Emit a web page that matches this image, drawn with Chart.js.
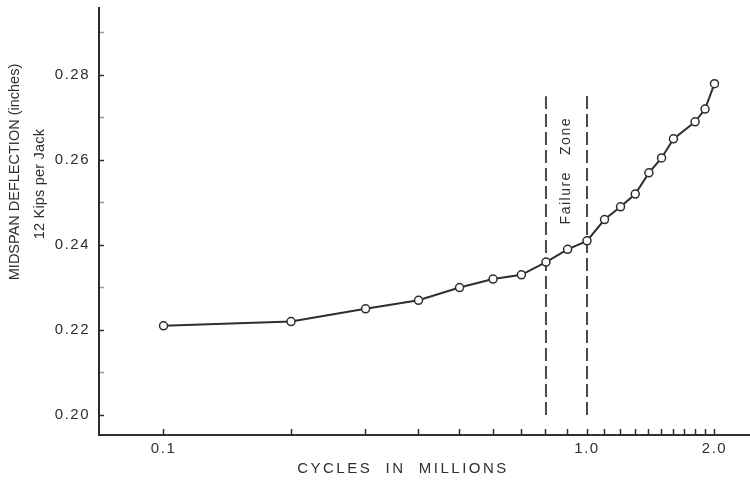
<!DOCTYPE html>
<html>
<head>
<meta charset="utf-8">
<title>Midspan deflection vs. cycles</title>
<script src="https://cdn.jsdelivr.net/npm/chart.js@4/dist/chart.umd.min.js"></script>
<style>
  html, body { margin: 0; padding: 0; background: #ffffff; }
  #wrap { width: 750px; height: 484px; }
</style>
</head>
<body>
<div id="wrap"><canvas id="c" width="750" height="484"></canvas></div>
<script>
// Measured deflection under 12 kips per jack
const cycles     = [0.1, 0.2, 0.3, 0.4, 0.5, 0.6, 0.7, 0.8, 0.9, 1.0, 1.1, 1.2, 1.3, 1.4, 1.5, 1.6, 1.8, 1.9, 2.0];
const deflection = [0.221, 0.222, 0.225, 0.227, 0.230, 0.232, 0.233, 0.236, 0.239, 0.241, 0.246, 0.249, 0.252, 0.257, 0.2605, 0.265, 0.269, 0.272, 0.278];

// Failure zone boundaries (cycles in millions) and the extent of their dashed markers
const failureBounds = [0.8, 1.0];
const failureTop    = [0.2750, 0.2762];
const failureBottom = 0.200;
const failureLabelY = 0.2575;

// Axis ticks
const xTickValues  = [0.1, 0.2, 0.3, 0.4, 0.5, 0.6, 0.7, 0.8, 0.9, 1.0, 1.1, 1.2, 1.3, 1.4, 1.5, 1.6, 1.7, 1.8, 1.9, 2.0];
const xTickLabels  = { 0.1: '0.1', 1.0: '1.0', 2.0: '2.0' };
const yTickValues  = [0.20, 0.21, 0.22, 0.23, 0.24, 0.25, 0.26, 0.27, 0.28, 0.29];
const yMajorLabels = ['0.20', '0.22', '0.24', '0.26', '0.28'];

const INK = '#2e2e2e';
const FONT = '"Liberation Sans", Arial, sans-serif';

const mainData = cycles.map((c, i) => ({ x: c, y: deflection[i] }));
const zoneSets = failureBounds.map((b, i) => ({
  data: [{ x: b, y: failureBottom }, { x: b, y: failureTop[i] }],
  borderColor: '#4a4a4a',
  borderWidth: 2,
  borderDash: [13, 5],
  pointRadius: 0,
  fill: false
}));

// no extra room around the plot for overhanging tick labels
function noLabelPadding(scale) {
  scale.paddingLeft = 0;
  scale.paddingRight = 0;
  scale.paddingTop = 0;
  scale.paddingBottom = 0;
}

const lettering = {
  id: 'lettering',
  beforeDraw(chart) {
    chart.ctx.letterSpacing = '1.5px';
  },
  afterDraw(chart) {
    const ctx = chart.ctx;
    const xs = chart.scales.x, ys = chart.scales.y;
    ctx.save();
    ctx.fillStyle = INK;
    ctx.textAlign = 'center';
    ctx.textBaseline = 'middle';

    // x-axis title
    ctx.font = '15px ' + FONT;
    ctx.letterSpacing = '2.5px';
    ctx.fillText('CYCLES  IN  MILLIONS', 403, 469);

    // y-axis title, two rotated lines
    ctx.font = '14.5px ' + FONT;
    ctx.letterSpacing = '0px';
    ctx.save();
    ctx.translate(15, 172);
    ctx.rotate(-Math.PI / 2);
    ctx.fillText('MIDSPAN DEFLECTION (inches)', 0, 0);
    ctx.restore();
    ctx.save();
    ctx.translate(40, 184);
    ctx.rotate(-Math.PI / 2);
    ctx.letterSpacing = '0.2px';
    ctx.fillText('12 Kips per Jack', 0, 0);
    ctx.restore();

    // label between the failure zone boundaries
    const mid = Math.sqrt(failureBounds[0] * failureBounds[1]);
    ctx.save();
    ctx.translate(xs.getPixelForValue(mid), ys.getPixelForValue(failureLabelY));
    ctx.rotate(-Math.PI / 2);
    ctx.font = '14px ' + FONT;
    ctx.letterSpacing = '1.5px';
    ctx.fillText('Failure   Zone', 0, 0);
    ctx.restore();

    ctx.restore();
  }
};

new Chart(document.getElementById('c'), {
  type: 'line',
  data: {
    datasets: [
      {
        data: mainData,
        borderColor: INK,
        borderWidth: 2,
        tension: 0,
        pointRadius: 4,
        pointBorderWidth: 1.5,
        pointBackgroundColor: '#ffffff',
        pointBorderColor: INK,
        fill: false
      },
      ...zoneSets
    ]
  },
  options: {
    responsive: false,
    devicePixelRatio: 1,
    animation: false,
    events: [],
    layout: { autoPadding: false, padding: { top: 8, left: 0, right: 0, bottom: 0 } },
    plugins: { legend: { display: false }, tooltip: { enabled: false } },
    scales: {
      x: {
        type: 'logarithmic',
        min: 0.0704,
        max: 2.426,
        afterBuildTicks(scale) {
          scale.ticks = xTickValues.map(v => ({ value: v }));
        },
        afterFit(scale) { scale.height = 49; noLabelPadding(scale); },
        border: { display: true, color: INK, width: 2 },
        grid: {
          drawOnChartArea: false,
          drawTicks: true,
          tickLength: -6,
          tickWidth: 1.5,
          tickColor: INK
        },
        ticks: {
          autoSkip: false,
          maxRotation: 0,
          padding: 11,
          color: INK,
          font: { family: FONT, size: 15 },
          callback(value) {
            const key = Math.round(value * 10) / 10;
            return xTickLabels[key] !== undefined ? xTickLabels[key] : '';
          }
        }
      },
      y: {
        type: 'linear',
        min: 0.1953,
        max: 0.2958,
        afterBuildTicks(scale) {
          scale.ticks = yTickValues.map(v => ({ value: v }));
        },
        afterFit(scale) { scale.width = 99; noLabelPadding(scale); },
        border: { display: true, color: INK, width: 2 },
        grid: {
          drawOnChartArea: false,
          drawTicks: true,
          tickLength: -5,
          tickWidth: 1.5,
          tickColor(ctx) {
            const s = ctx.tick ? ctx.tick.value.toFixed(2) : '';
            return yMajorLabels.includes(s) ? INK : '#9a9a9a';
          }
        },
        ticks: {
          autoSkip: false,
          padding: 14,
          color: INK,
          font: { family: FONT, size: 15 },
          callback(value) {
            const s = value.toFixed(2);
            return yMajorLabels.includes(s) ? s : '';
          }
        }
      }
    }
  },
  plugins: [lettering]
});
</script>
</body>
</html>
